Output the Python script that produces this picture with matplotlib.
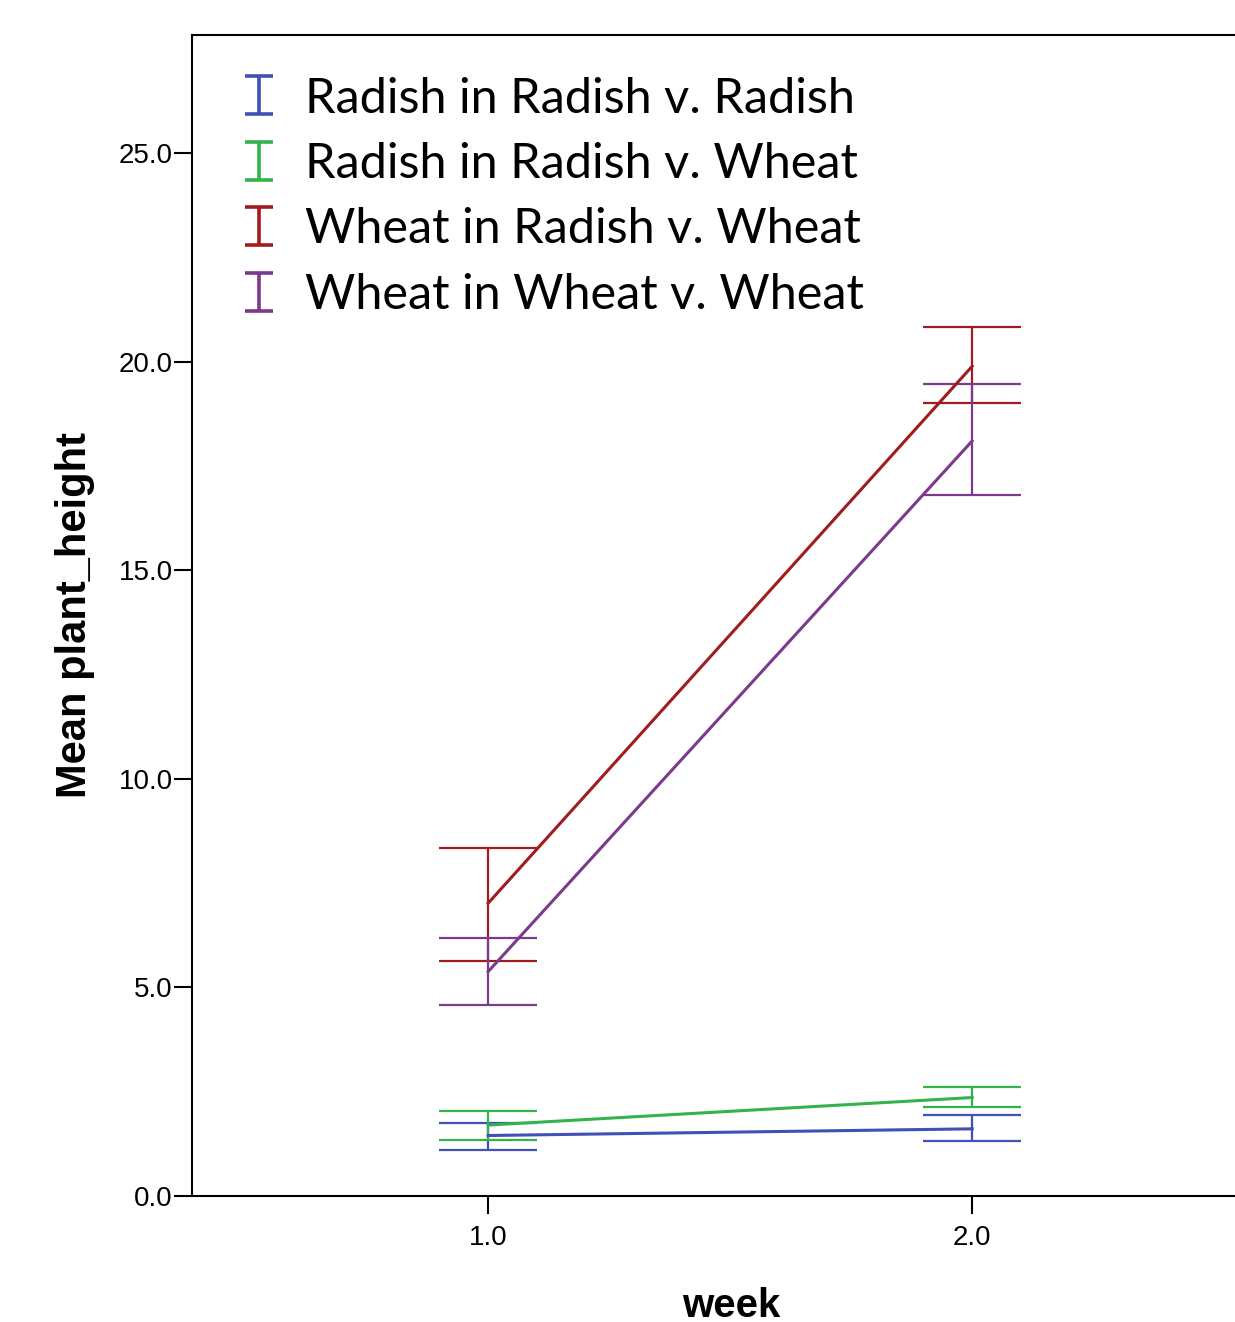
import matplotlib
matplotlib.use("Agg")
import matplotlib.pyplot as plt
from matplotlib.lines import Line2D
from matplotlib.path import Path
import numpy as np

plt.rcParams['font.family'] = ['Liberation Sans', 'DejaVu Sans']

# Data
weeks = [1.0, 2.0]
groups = ['Radish in Radish v. Radish', 'Radish in Radish v. Wheat',
          'Wheat in Radish v. Wheat', 'Wheat in Wheat v. Wheat']
colors = ['#3F51B5', '#33B34B', '#A01C1E', '#7D3A8C']

radish_rr_mean = [1.45, 1.61]
radish_rr_low = [1.10, 1.33]
radish_rr_high = [1.76, 1.93]

radish_rw_mean = [1.70, 2.36]
radish_rw_low = [1.34, 2.13]
radish_rw_high = [2.03, 2.61]

wheat_rw_mean = [7.02, 19.89]
wheat_rw_low = [5.63, 19.02]
wheat_rw_high = [8.35, 20.84]

wheat_ww_mean = [5.38, 18.10]
wheat_ww_low = [4.59, 16.81]
wheat_ww_high = [6.19, 19.46]

means = [radish_rr_mean, radish_rw_mean, wheat_rw_mean, wheat_ww_mean]
lows = [radish_rr_low, radish_rw_low, wheat_rw_low, wheat_ww_low]
highs = [radish_rr_high, radish_rw_high, wheat_rw_high, wheat_ww_high]

fig = plt.figure(figsize=(12.35, 13.22), dpi=100)
ax = fig.add_axes([192/1235, 126/1322, 1 - 192/1235, (1196-35)/1322])

for m, lo, hi, c in zip(means, lows, highs, colors):
    m = np.array(m); lo = np.array(lo); hi = np.array(hi)
    ax.plot(weeks, m, color=c, lw=2.2, zorder=3)
    ax.errorbar(weeks, m, yerr=[m - lo, hi - m], fmt='none', ecolor=c,
                elinewidth=1.6, capsize=35.3, capthick=1.6, zorder=2)

ax.set_xlim(0.388, 2.543)
ax.set_ylim(0, 27.83)
ax.set_xticks(weeks)
ax.set_xticklabels(['%.1f' % w for w in weeks])
yt = np.arange(0, 26, 5.0)
ax.set_yticks(yt)
ax.set_yticklabels(['%.1f' % v for v in yt])
ax.tick_params(axis='both', labelsize=20, length=13, width=1.5)
ax.tick_params(axis='y', pad=1)
ax.tick_params(axis='x', pad=8)
ax.spines['right'].set_visible(False)
for s in ['left', 'top', 'bottom']:
    ax.spines[s].set_linewidth(1.5)

ax.set_ylabel('Mean plant_height', fontsize=30, fontweight='bold')
ax.yaxis.set_label_coords(-0.093, 0.5)
ax.set_xlabel('week', fontsize=29, fontweight='bold')
ax.xaxis.set_label_coords(0.5168, -0.078)

# error-bar shaped legend icon
ibar = Path([(-0.7, -1), (0.7, -1), (0, -1), (0, 1), (-0.7, 1), (0.7, 1)],
            [Path.MOVETO, Path.LINETO, Path.MOVETO, Path.LINETO,
             Path.MOVETO, Path.LINETO])
handles = [Line2D([], [], marker=ibar, linestyle='none', color=c,
                  markerfacecolor='none', markeredgewidth=2.6,
                  markersize=28) for c in colors]
ax.legend(handles, groups, loc='upper left', bbox_to_anchor=(0.022, 0.981),
          frameon=False, prop={'family': 'Lato', 'size': 35},
          handlelength=1.0, handletextpad=0.45, labelspacing=0.44,
          borderaxespad=0)

fig.savefig('out.png', dpi=100)
